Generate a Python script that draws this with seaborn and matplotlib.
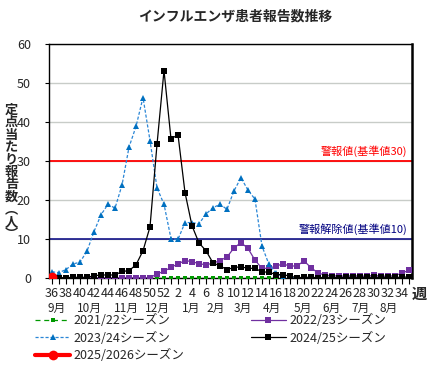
import matplotlib
matplotlib.use("Agg")
import matplotlib.pyplot as plt
import matplotlib.transforms as mtransforms
import numpy as np
import seaborn as sns

# 週（36週〜翌35週）
weeks = [36, 37, 38, 39, 40, 41, 42, 43, 44, 45, 46, 47, 48, 49, 50, 51, 52,
         1, 2, 3, 4, 5, 6, 7, 8, 9, 10, 11, 12, 13, 14, 15, 16, 17, 18, 19, 20,
         21, 22, 23, 24, 25, 26, 27, 28, 29, 30, 31, 32, 33, 34, 35]

# 各シーズンの定点当たり報告数
s2122 = [0.0, 0.0, 0.0, 0.0, 0.0, 0.0, 0.0, 0.0, 0.0, 0.0, 0.0, 0.0, 0.0,
         0.0, 0.0, 0.0, 0.0, 0.0, 0.0, 0.0, 0.0, 0.0, 0.0, 0.0, 0.0, 0.0,
         0.0, 0.0, 0.0, 0.0, 0.0, 0.0, 0.0, 0.0, 0.0, 0.0, 0.0, 0.0, 0.0,
         0.0, 0.0, 0.0, 0.0, 0.0, 0.0, 0.0, 0.0, 0.0, 0.0, 0.0, 0.0, 0.0]
s2223 = [0.2, 0.2, 0.2, 0.2, 0.2, 0.2, 0.2, 0.2, 0.2, 0.2, 0.2, 0.2, 0.2,
         0.2, 0.2, 1.2, 1.8, 2.9, 3.7, 4.6, 4.3, 3.8, 3.5, 3.9, 4.6, 5.5,
         7.8, 9.2, 7.7, 4.7, 2.6, 2.6, 3.2, 3.7, 3.2, 3.2, 4.5, 2.8, 1.4,
         0.9, 0.7, 0.6, 0.6, 0.7, 0.6, 0.6, 0.8, 0.6, 0.6, 0.7, 1.4, 2.1]
s2324 = [1.7, 1.5, 2.3, 3.7, 4.2, 7.0, 12.0, 16.3, 19.0, 18.0, 23.9, 33.6,
         38.9, 46.3, 35.3, 23.2, 19.0, 10.2, 10.0, 14.3, 14.3, 14.0, 16.5,
         18.1, 19.0, 17.7, 22.4, 25.8, 22.6, 20.3, 8.3, 3.6, 1.4, 0.4, 0.2,
         0.2, 0.1, 0.1, 0.1, 0.1, 0.1, 0.1, 0.1, 0.1, 0.1, 0.2, 0.1, 0.1,
         0.1, 0.1, 0.1, 0.1]
s2425 = [0.3, 0.2, 0.2, 0.3, 0.3, 0.3, 0.7, 0.9, 0.9, 0.9, 1.8, 2.0, 3.5,
         7.1, 13.2, 34.3, 53.2, 35.7, 36.8, 22.0, 13.5, 9.1, 7.1, 4.0, 3.2,
         2.3, 2.8, 3.0, 2.6, 2.6, 1.7, 1.6, 1.0, 1.0, 0.6, 0.2, 0.3, 0.3,
         0.2, 0.3, 0.3, 0.2, 0.3, 0.3, 0.3, 0.3, 0.3, 0.3, 0.3, 0.3, 0.3, 0.4]
s2526 = [0.4]

months = ["9月", "10月", "11月", "12月", "1月", "2月", "3月", "4月",
          "5月", "6月", "7月", "8月"]
month_pos = [0.7, 5.4, 10.7, 15.0, 19.9, 23.4, 27.2, 31.4, 35.9, 39.9, 44.1, 48.1]

ylabel_text = "定点当たり報告数︵人︶"

sns.set_style("white")
plt.rcParams['font.family'] = ['Noto Sans CJK JP', 'DejaVu Sans']

fig = plt.figure(figsize=(4.3, 3.65), dpi=100)
ax = fig.add_axes([0.114, 0.237, 0.844, 0.6425])

xi = np.arange(len(weeks))

sns.lineplot(x=xi, y=s2122, ax=ax, color="#009900", linestyle=(0, (4, 3)),
             linewidth=0.9, marker="s", markersize=2.5, markeredgewidth=0,
             label="2021/22シーズン", zorder=3)
sns.lineplot(x=xi, y=s2223, ax=ax, color="#7030a0", linewidth=0.9,
             marker="s", markersize=4, markeredgewidth=0,
             label="2022/23シーズン", zorder=4)
sns.lineplot(x=xi, y=s2324, ax=ax, color="#2a86d6", linestyle=(0, (2.5, 1.5)),
             linewidth=0.9, marker="^", markersize=5, markeredgewidth=0,
             markerfacecolor="#0070c0", label="2023/24シーズン", zorder=5)
sns.lineplot(x=xi, y=s2425, ax=ax, color="black", linewidth=0.9,
             marker="s", markersize=4.5, markeredgewidth=0,
             label="2024/25シーズン", zorder=6)
sns.lineplot(x=xi[:len(s2526)], y=s2526, ax=ax, color="#ff0000", linewidth=3,
             marker="o", markersize=7, markeredgewidth=0,
             label="2025/2026シーズン", zorder=7)

# 基準線
ax.axhline(30, color="#ff0000", linewidth=1.3, zorder=2)
ax.axhline(10, color="#000080", linewidth=1.1, zorder=2)
ax.text(50.8, 31.2, "警報値(基準値30)", color="#ff0000", fontsize=8,
        ha="right", va="bottom")
ax.text(50.8, 11.2, "警報解除値(基準値10)", color="#000080", fontsize=8,
        ha="right", va="bottom")

ax.set_xlim(-0.43, 51.43)
ax.set_ylim(0, 60)
ax.set_yticks([0, 10, 20, 30, 40, 50, 60])
ax.yaxis.grid(True, color="#c8ccc8", linewidth=1)
ax.set_axisbelow(True)
ax.set_xticks(xi)
ax.set_xticklabels([str(w) if i % 2 == 0 else "" for i, w in enumerate(weeks)])
ax.tick_params(axis="x", length=4, width=0.8, color="black", pad=2,
               labelsize=9, direction="out", bottom=True)
ax.tick_params(axis="y", length=3, width=0.8, color="black", pad=10,
               labelsize=9, direction="out", left=True)

for side in ["left", "bottom", "top"]:
    ax.spines[side].set_color("black")
    ax.spines[side].set_linewidth(1)
ax.spines["right"].set_color("black")
ax.spines["right"].set_linewidth(1.8)

# 月ラベル
trans = mtransforms.blended_transform_factory(ax.transData, fig.transFigure)
for m, p in zip(months, month_pos):
    ax.text(p, 1 - 308 / 365, m, transform=trans, ha="center", va="center",
            fontsize=8.5)

fig.text(419 / 430, 1 - 294 / 365, "週", fontsize=11, fontweight="bold",
         ha="center", va="center")

# 縦書きの軸ラベル
fig.text(11.5 / 430, 1 - 172 / 365, "\n".join(ylabel_text), fontsize=9.5,
         fontweight="bold", ha="center", va="center", linespacing=0.86)

fig.text(235 / 430, 1 - 16 / 365, "インフルエンザ患者報告数推移",
         fontsize=10, fontweight="bold", ha="center", va="center")

# 凡例
handles, labels = ax.get_legend_handles_labels()
ax.get_legend().remove()
order = [0, 2, 4, 1, 3]
fig.legend([handles[i] for i in order], [labels[i] for i in order],
           loc="upper left", bbox_to_anchor=(35 / 430, 1 - 314 / 365),
           ncol=2, frameon=False, fontsize=9, handlelength=2.8,
           handletextpad=0.3, columnspacing=5.3, labelspacing=0.35,
           borderpad=0, borderaxespad=0)

fig.savefig("out.png", dpi=100)
